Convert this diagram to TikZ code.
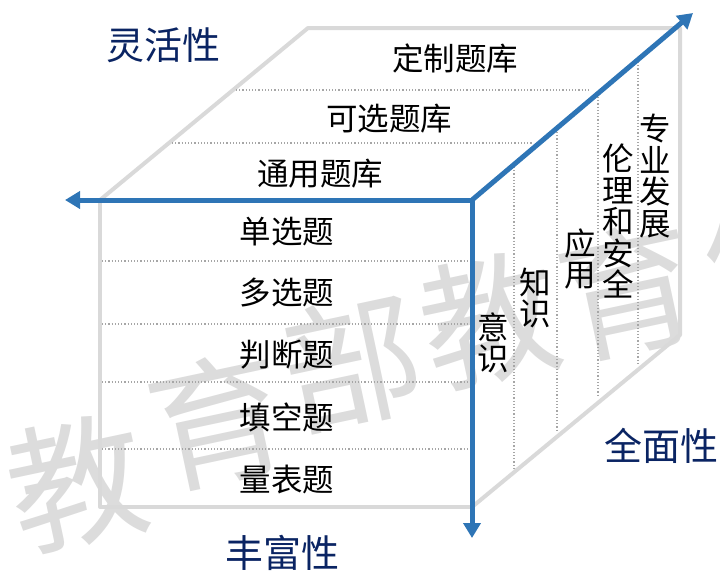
\documentclass[tikz,border=0pt]{standalone}
\usepackage{fontspec}
\setmainfont{Noto Sans CJK SC}
\usetikzlibrary{arrows.meta}
\definecolor{axisblue}{HTML}{2E75B6}
\definecolor{cubegray}{HTML}{D9D9D9}
\definecolor{dotgray}{HTML}{A6A6A6}
\definecolor{navy}{HTML}{0A2463}
\definecolor{wmgray}{HTML}{DCDCDC}
\begin{document}
\begin{tikzpicture}[x=1pt,y=-1pt,
  edge/.style={cubegray,line width=4pt,line cap=round,line join=round},
  axis/.style={axisblue,line width=5pt},
  axisboth/.style={{Triangle[length=15pt,width=17pt]}-{Triangle[length=15pt,width=17pt]}},
  axisone/.style={-{Triangle[length=15pt,width=17pt]}},
  layer/.style={dotgray,line width=1.2pt,dotted},
  label/.style={font=\fontsize{31.5}{31.5}\selectfont,inner sep=0pt,align=center},
  dim/.style={font=\fontsize{38}{40}\selectfont,text=navy,inner sep=0pt},
  wm/.style={font=\fontsize{138}{138}\selectfont,text=wmgray,inner sep=0pt,rotate=12}]
\useasboundingbox (0,0) rectangle (720,574);

% watermark
\node[wm] (wm1) at (77,483) {教};
\node[wm] (wm2) at (218,420) {育};
\node[wm] (wm3) at (352,362) {部};
\node[wm] (wm4) at (490,320) {教};
\node[wm] (wm5) at (628,290) {育};
\node[wm] (wm6) at (772,250) {信};

% cube corners
\coordinate (O) at (472,200);
\coordinate (FL) at (100,200);
\coordinate (FBL) at (100,507);
\coordinate (FBR) at (472,507);
\coordinate (TBL) at (308,28);
\coordinate (TBR) at (680,28);
\coordinate (RBB) at (680,335);

\draw[edge] (FL) -- (FBL) -- (FBR);
\draw[edge] (FL) -- (TBL) -- (TBR) -- (RBB) -- (FBR);

% front layers
\foreach \y [count=\i] in {261,324,382,449}{
  \coordinate (fa\i) at (102,\y);
  \coordinate (fb\i) at (469,\y);
  \draw[layer] (fa\i) -- (fb\i);
}
% top layers
\coordinate (ta1) at (236,90);  \coordinate (tb1) at (590,90);
\coordinate (ta2) at (172,143); \coordinate (tb2) at (533,143);
\draw[layer] (ta1) -- (tb1);
\draw[layer] (ta2) -- (tb2);
% right layers
\coordinate (ra1) at (514,167); \coordinate (rb1) at (514,468);
\coordinate (ra2) at (557,132); \coordinate (rb2) at (557,431);
\coordinate (ra3) at (598,97);  \coordinate (rb3) at (598,397);
\coordinate (ra4) at (638,62);  \coordinate (rb4) at (638,364);
\foreach \i in {1,...,4}{\draw[layer] (ra\i) -- (rb\i);}

% axes
\coordinate (Xend) at (65,200);
\coordinate (Yend) at (472,538);
\coordinate (Zend) at (693,13);
\draw[axis,axisboth,line join=miter] (Xend) -- (O) -- (Yend);
\draw[axis,axisone] (O) -- (Zend);

% top face labels
\node[label] (t1) at (455,58) {定制题库};
\node[label] (t2) at (389,119) {可选题库};
\node[label] (t3) at (320,174) {通用题库};

% front face labels
\node[label] (f1) at (287,232) {单选题};
\node[label] (f2) at (287,293) {多选题};
\node[label] (f3) at (287,355) {判断题};
\node[label] (f4) at (287,417) {填空题};
\node[label] (f5) at (287,480) {量表题};

% right face labels
\node[label] (r1) at (493,343) {意\\识};
\node[label] (r2) at (535,298) {知\\识};
\node[label] (r3) at (580,259) {应\\用};
\node[label] (r4) at (618,221) {伦\\理\\和\\安\\全};
\node[label] (r5) at (655,176) {专\\业\\发\\展};

% dimension labels
\node[dim] (d1) at (163,45) {灵活性};
\node[dim] (d2) at (282,553) {丰富性};
\node[dim] (d3) at (661,446) {全面性};
\end{tikzpicture}
\end{document}
